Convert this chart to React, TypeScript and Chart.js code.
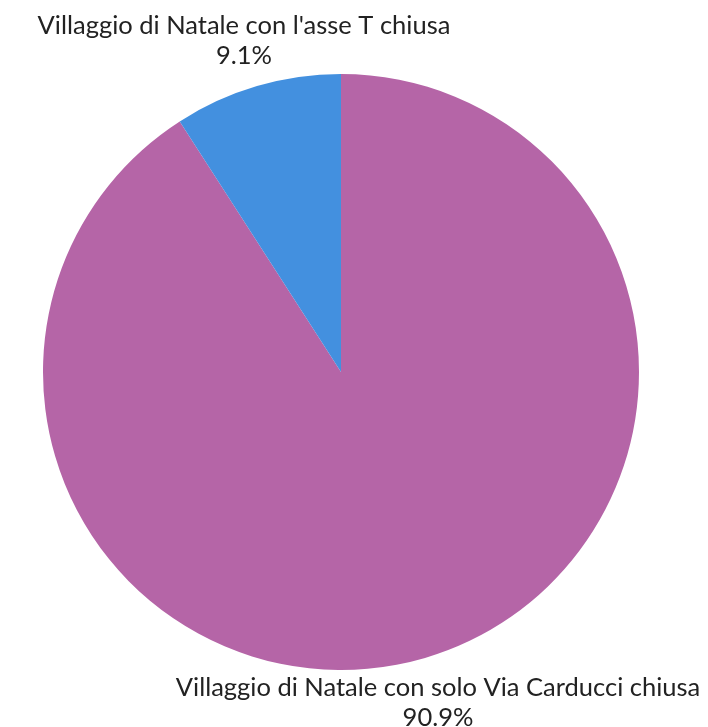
import React, { useEffect, useRef } from "react";
import { Chart, registerables } from "chart.js";

Chart.register(...registerables);

const categories = [
  "Villaggio di Natale con solo Via Carducci chiusa",
  "Villaggio di Natale con l'asse T chiusa",
];
const values = [90.9, 9.1];
const colors = ["#B565A7", "#4390DF"];

const FONT = "Lato, 'Open Sans', sans-serif";
const FONT_SIZE = 25.5;

const outsideLabels = {
  id: "outsideLabels",
  afterDatasetsDraw(chart: any) {
    const ctx = chart.ctx;
    const meta = chart.getDatasetMeta(0);
    const data = chart.data.datasets[0].data as number[];
    const total = data.reduce((a, b) => a + b, 0);
    ctx.save();
    ctx.font = `${FONT_SIZE}px ${FONT}`;
    ctx.fillStyle = "#222";
    ctx.textAlign = "center";
    const lineH = 30;
    meta.data.forEach((arc: any, i: number) => {
      const { x, y, startAngle, endAngle, outerRadius } = arc.getProps(
        ["x", "y", "startAngle", "endAngle", "outerRadius"],
        true
      );
      const mid = (startAngle + endAngle) / 2;
      const px = x + Math.cos(mid) * (outerRadius + 46);
      const py = y + Math.sin(mid) * (outerRadius + 15.5);
      const pct = ((data[i] / total) * 100).toFixed(1) + "%";
      const lines = [String(chart.data.labels[i]), pct];
      const upper = Math.sin(mid) < 0;
      ctx.textBaseline = "middle";
      const blockH = lines.length * lineH;
      const top = upper ? py - blockH : py;
      lines.forEach((t, k) => {
        ctx.fillText(t, px, top + lineH * k + lineH / 2);
      });
    });
    ctx.restore();
  },
};

export default function App() {
  const ref = useRef<HTMLCanvasElement | null>(null);
  useEffect(() => {
    document.body.style.margin = "0";
    const chart = new Chart(ref.current!, {
      type: "pie",
      data: {
        labels: categories,
        datasets: [
          {
            data: values,
            backgroundColor: colors,
            borderWidth: 0,
          },
        ],
      },
      options: {
        animation: false,
        responsive: false,
        layout: { padding: { left: 43, right: 69, top: 74, bottom: 57 } },
        plugins: {
          legend: { display: false },
          tooltip: { enabled: false },
        },
      },
      plugins: [outsideLabels],
    });
    return () => chart.destroy();
  }, []);
  return (
    <div style={{ width: 708, height: 727, background: "#fff" }}>
      <canvas ref={ref} width={708} height={727} />
    </div>
  );
}
